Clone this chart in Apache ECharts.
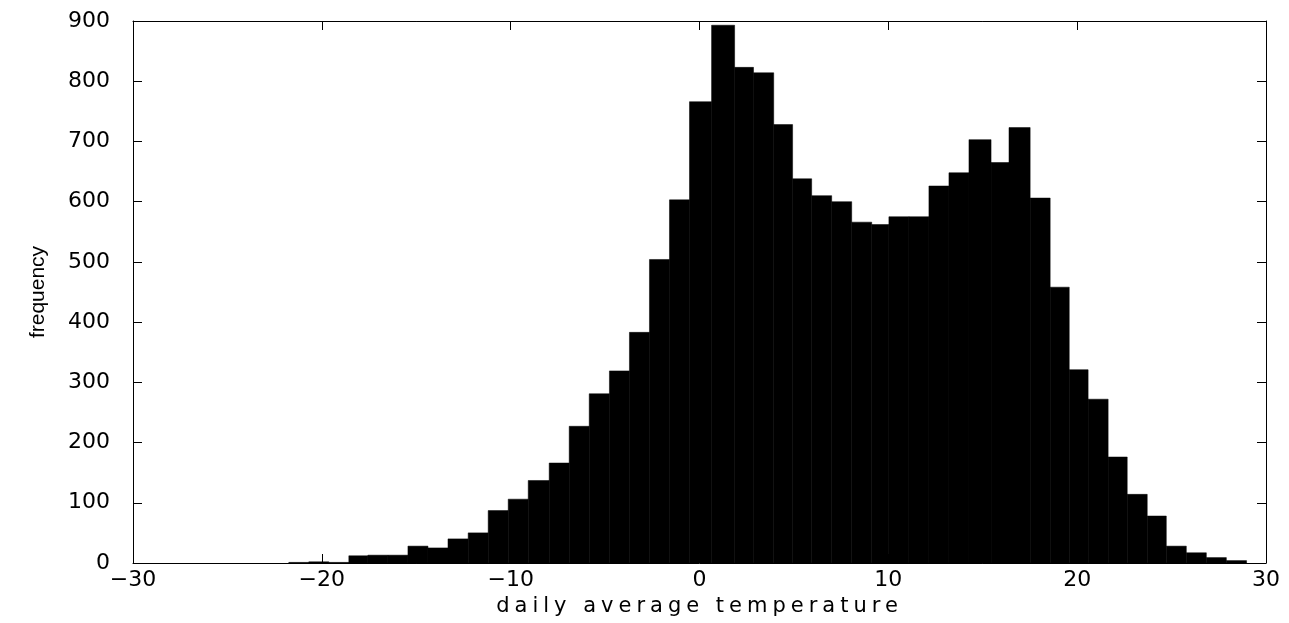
<!DOCTYPE html>
<html><head><meta charset="utf-8">
<script src="https://cdn.jsdelivr.net/npm/echarts@6/dist/echarts.min.js"></script>
<style>html,body{margin:0;padding:0;background:#fff}#c{width:1289px;height:623px}</style>
</head><body><div id="c"></div>
<script>
// histogram bin edges (degrees) and counts
const binEdges = [-21.75,-20.69,-19.63,-18.57,-17.56,-16.50,-15.44,-14.38,-13.32,-12.25,
  -11.19,-10.13,-9.07,-7.96,-6.90,-5.84,-4.77,-3.71,-2.65,-1.59,
  -0.53,0.64,1.86,2.86,3.93,4.93,5.94,7.00,8.06,9.12,
  10.03,11.09,12.15,13.21,14.27,15.44,16.39,17.51,18.57,19.58,
  20.58,21.64,22.65,23.71,24.72,25.78,26.84,27.90,28.97];
const counts = [1,2,1,12,13,13,28,25,40,50,
  87,106,137,166,227,281,319,383,504,603,
  766,893,823,814,728,638,610,600,566,562,
  575,575,626,648,703,665,723,606,458,321,
  272,176,114,78,28,17,9,4];
const xTickValues = [-30,-20,-10,0,10,20,30];
const yTickValues = [0,100,200,300,400,500,600,700,800,900];
const xName = 'daily average temperature';
const yName = 'frequency';

// the printed axis title is set with wide letter spacing
const origFill = CanvasRenderingContext2D.prototype.fillText;
CanvasRenderingContext2D.prototype.fillText = function(t, x, y, w) {
  if (t === xName && 'letterSpacing' in this) {
    this.save();
    this.letterSpacing = '5px';
    if (w === undefined) origFill.call(this, t, x, y); else origFill.call(this, t, x, y, w);
    this.restore();
    this.letterSpacing = '0px';
    return;
  }
  if ('letterSpacing' in this && this.letterSpacing !== '0px') this.letterSpacing = '0px';
  return origFill.apply(this, arguments);
};

const bars = counts.map((v,i)=>[binEdges[i], binEdges[i+1], v]);
const font = 'DejaVu Sans';
const chart = echarts.init(document.getElementById('c'), null, {renderer:'canvas'});
const xStep = xTickValues[1]-xTickValues[0];
const yStep = yTickValues[1]-yTickValues[0];
const lineStyle = {color:'#000', width:1};
const tick = {show:true, inside:true, length:9, lineStyle:lineStyle};
chart.setOption({
  animation:false,
  backgroundColor:'#fff',
  grid:{left:133, right:23, top:21, bottom:60, show:false},
  xAxis:[{
    type:'value', min:xTickValues[0], max:xTickValues[xTickValues.length-1], interval:xStep,
    axisLine:{show:true, onZero:false, lineStyle:lineStyle},
    axisTick:tick, splitLine:{show:false},
    axisLabel:{color:'#000', fontFamily:font, fontSize:22, margin:6,
      formatter:v=>String(v).replace('-', '\u2212')},
    name:xName, nameLocation:'middle', nameGap:30,
    nameTextStyle:{color:'#000', fontFamily:font, fontSize:21}
  },{
    type:'value', position:'top', min:xTickValues[0], max:xTickValues[xTickValues.length-1], interval:xStep,
    axisLine:{show:true, onZero:false, lineStyle:lineStyle},
    axisTick:tick, axisLabel:{show:false}, splitLine:{show:false}
  }],
  yAxis:[{
    type:'value', min:yTickValues[0], max:yTickValues[yTickValues.length-1], interval:yStep,
    axisLine:{show:true, onZero:false, lineStyle:lineStyle},
    axisTick:tick, splitLine:{show:false},
    axisLabel:{color:'#000', fontFamily:font, fontSize:22, margin:23},
    name:yName, nameLocation:'middle', nameGap:84,
    nameTextStyle:{color:'#000', fontFamily:'Liberation Sans', fontSize:21}
  },{
    type:'value', position:'right', min:yTickValues[0], max:yTickValues[yTickValues.length-1], interval:yStep,
    axisLine:{show:true, onZero:false, lineStyle:lineStyle},
    axisTick:tick, axisLabel:{show:false}, splitLine:{show:false}
  }],
  series:[{
    type:'custom', xAxisIndex:0, yAxisIndex:0,
    data:bars,
    encode:{x:[0,1], y:2},
    renderItem:function(params, api){
      const p0 = api.coord([api.value(0), api.value(2)]);
      const p1 = api.coord([api.value(1), 0]);
      return {type:'rect', shape:{x:p0[0], y:p0[1], width:p1[0]-p0[0], height:p1[1]-p0[1]},
        style:{fill:'#000', stroke:'#000', lineWidth:0.5}};
    }
  }]
});
</script></body></html>
